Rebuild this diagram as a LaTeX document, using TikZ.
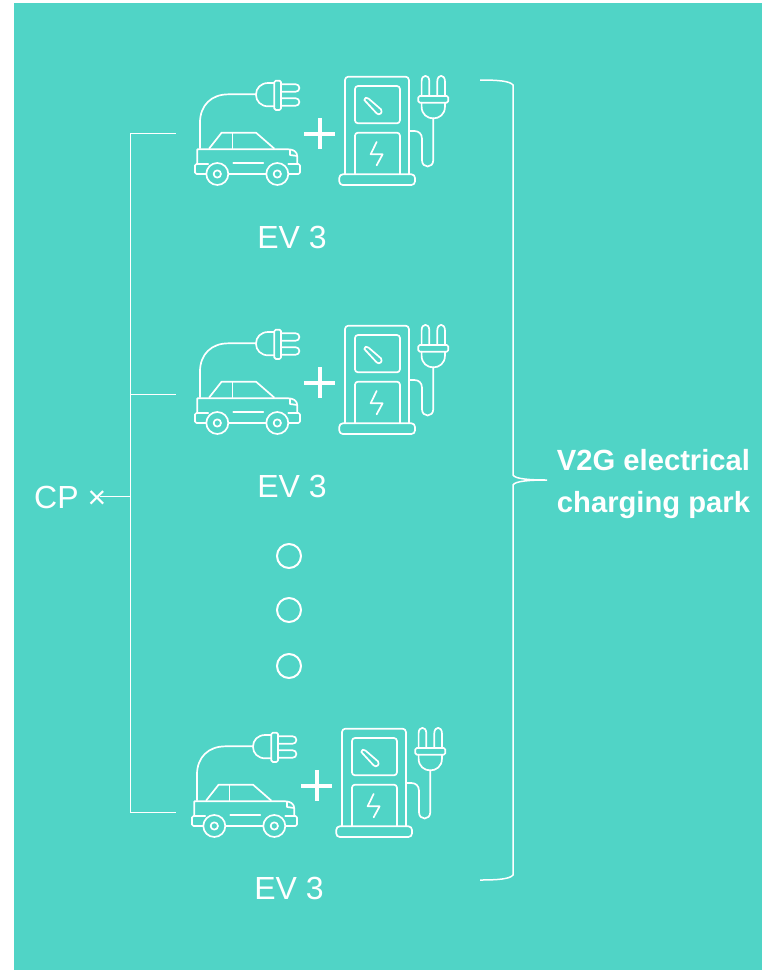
\documentclass[tikz,border=0pt]{standalone}
\usepackage{fontspec}
\setmainfont{Liberation Sans}
\definecolor{teal1}{HTML}{50D4C6}
\tikzset{
  x=1pt,y=-1pt,
  icon/.style={draw=white,line width=1.7pt,line join=round,line cap=round},
  bus/.style={draw=white,line width=0.85pt},
  lbl/.style={text=white,font=\fontsize{32}{32}\selectfont,inner sep=0pt},
  parklbl/.style={text=white,font=\fontsize{29.2}{43}\selectfont\bfseries,inner sep=0pt,anchor=base},
  dotc/.style={draw=white,line width=2pt,circle,minimum size=24pt,inner sep=0pt},
  unit/.pic={
    \begin{scope}[x=0.3333pt,y=-0.3333pt,shift={(180*3,60*3)},icon]
      % cable and plug
      \draw (60,265) -- (60,188) .. controls (60,135) and (95,103) .. (145,103) -- (228,103);
      \draw (265,69) .. controls (243,69) and (228,84) .. (228,104) .. controls (228,124) and (243,139) .. (265,139) -- (283,139) (265,69) -- (283,69);
      \draw[rounded corners=1.5pt] (283,62) rectangle (303,150);
      \draw[rounded corners=3.4pt] (303,73) -- (358,73) -- (358,95) -- (303,95);
      \draw[rounded corners=3.4pt] (303,115) -- (358,115) -- (358,137) -- (303,137);
      % car
      \draw (85,312) -- (52,312) -- (52,268) -- (325,268) .. controls (340,268) and (352,275) .. (352,290) -- (352,312) -- (325,312);
      \draw[rounded corners=1.5pt] (62,312) -- (45,312) -- (45,342) -- (80,342);
      \draw[rounded corners=1.5pt] (330,312) -- (360,312) -- (360,342) -- (325,342);
      \draw (145,342) -- (260,342);
      \draw (88,265) -- (125,218) -- (228,218) -- (282,265);
      \draw (158,220) -- (158,265);
      \draw (160,310) -- (250,310);
      \draw (330,270) -- (330,285) -- (352,288);
      \fill[teal1,draw=none] (112,342) circle[radius=33];
      \fill[teal1,draw=none] (292,342) circle[radius=33];
      \draw (112,342) circle[radius=33];
      \draw (112,342) circle[radius=11];
      \draw (292,342) circle[radius=33];
      \draw (292,342) circle[radius=11];
      % charger
      \draw[rounded corners=3.4pt] (495,343) -- (495,50) -- (687,50) -- (687,343);
      \draw[rounded corners=3pt] (525,78) rectangle (660,190);
      \draw[rounded corners=3pt] (525,343) -- (525,218) -- (660,218) -- (660,343);
      \draw[rounded corners=3.5pt] (478,343) rectangle (705,375);
      \draw (553,120) .. controls (553,112) and (560,111) .. (566,116) -- (603,148) .. controls (610,158) and (598,168) .. (590,160) -- cycle;
      \draw (590,246) -- (572,283) -- (608,283) -- (590,316);
      \draw (687,213) -- (703,213) .. controls (717,213) and (726,222) .. (726,236) -- (726,300) .. controls (726,326) and (760,326) .. (760,300) -- (760,175);
      \draw (725,128) -- (725,140) .. controls (725,187) and (795,187) .. (795,140) -- (795,128);
      \draw[rounded corners=1.5pt] (715,108) rectangle (805,128);
      \draw (725,108) -- (725,64) .. controls (725,42) and (748,42) .. (748,64) -- (748,108);
      \draw (772,108) -- (772,64) .. controls (772,42) and (795,42) .. (795,64) -- (795,108);
      % plus
      \draw[line width=4pt,line cap=butt] (372,221) -- (466,221);
      \draw[line width=4pt,line cap=butt] (420,174) -- (420,268);
    \end{scope}
  }
}
\begin{document}
\begin{tikzpicture}
\useasboundingbox (0,0) rectangle (762,970);
\fill[white] (0,0) rectangle (762,970);
\fill[teal1] (14,3) rectangle (762,970);
\pic at (0,0) {unit};
\pic at (0,249) {unit};
\pic at (-3,652) {unit};
\node[lbl] (ev1) at (292,237) {EV 3};
\node[lbl] (ev2) at (292,486) {EV 3};
\node[lbl] (ev3) at (289,888) {EV 3};
\node[lbl,anchor=base west] (cp) at (34,508) {CP ×};
\node[parklbl] (park1) at (653.5,470) {V2G electrical};
\node[parklbl] (park2) at (653.5,512) {charging park};
\node[dotc] (d1) at (289,556) {};
\node[dotc] (d2) at (289,610) {};
\node[dotc] (d3) at (289,666) {};
\coordinate (t) at (130,133);
\coordinate (b) at (130,812);
\coordinate (m) at (130,394);
\coordinate (j) at (130,496);
\coordinate (a1) at (176,133);
\coordinate (a2) at (176,394);
\coordinate (a3) at (176,812);
\coordinate (x) at (100,496);
\draw[bus] (a1) -- (t) -- (b) -- (a3);
\draw[bus] (m) -- (a2);
\draw[bus] (j) -- (x);
\draw[white,line width=1.5pt] (480,80) .. controls (498,80) and (510,81) .. (513,85) -- (513,475) .. controls (515,479) and (530,480) .. (547,480) .. controls (530,480) and (515,481) .. (513,485) -- (513,875) .. controls (510,879) and (498,880) .. (480,880);
\end{tikzpicture}
\end{document}
